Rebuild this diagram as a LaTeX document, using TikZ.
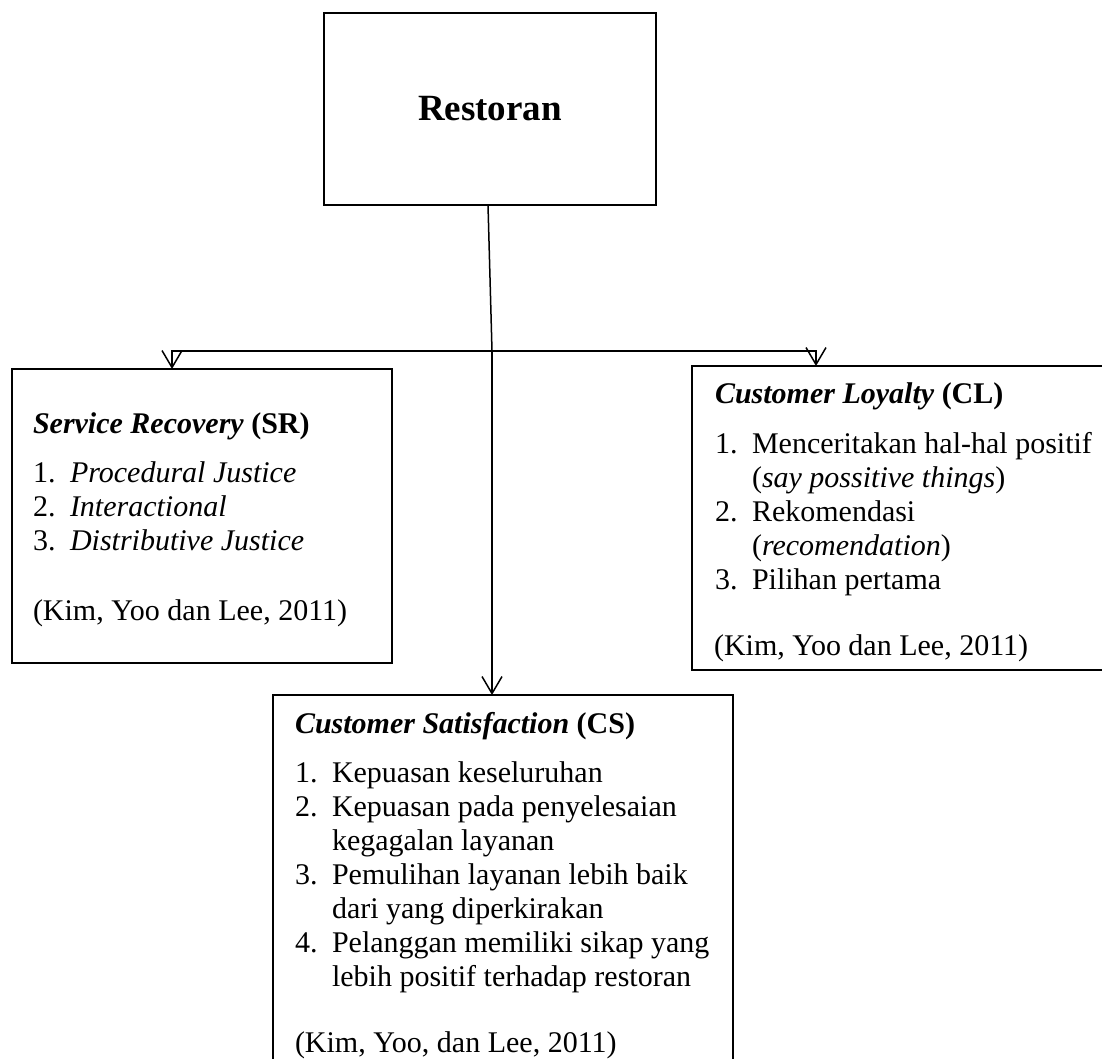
\documentclass[tikz,border=0pt]{standalone}
\usepackage{fontspec}
\setmainfont{Liberation Serif}
\usetikzlibrary{arrows.meta}
\tikzset{
  boxx/.style={draw, line width=1pt, rectangle, inner sep=0pt, outer sep=0pt},
  txt/.style={anchor=base west, inner sep=0pt, outer sep=0pt, font=\fontsize{15}{17}\selectfont},
  conn/.style={line width=0.75pt},
  arr/.style={conn, -{Straight Barb[length=8.5pt,width=10pt]}}
}
\begin{document}
\begin{tikzpicture}[x=0.5pt,y=-0.5pt]
\useasboundingbox (0,0) rectangle (1102,1059);
% boxes
\node[boxx, minimum width=166pt, minimum height=96pt, font=\fontsize{18.5}{22}\selectfont\bfseries] (rest) at (490,109) {Restoran};
\node[boxx, minimum width=190pt, minimum height=147pt] (sr) at (202,516) {};
\node[boxx, minimum width=206pt, minimum height=152pt] (cl) at (898,518) {};
\node[boxx, minimum width=230pt, minimum height=190pt] (cs) at (503,885) {};
% connectors
\coordinate (j) at (492,351);
\coordinate (srin) at (172,369);
\coordinate (clin) at (816,366);
\draw[conn] ([xshift=-1pt]rest.south) -- (j);
\draw[arr] (j) -- (j |- cs.north);
\draw[arr] (j) -| (srin);
\draw[arr] (j) -| (clin);
% SR text
\node[txt] (srt) at (33,433) {\textbf{\textit{Service Recovery}} \textbf{(SR)}};
\node[txt] (sr1n) at (33,482) {1.};
\node[txt] (sr1) at (70,482) {\textit{Procedural Justice}};
\node[txt] (sr2n) at (33,516) {2.};
\node[txt] (sr2) at (70,516) {\textit{Interactional}};
\node[txt] (sr3n) at (33,550) {3.};
\node[txt] (sr3) at (70,550) {\textit{Distributive Justice}};
\node[txt] (src) at (33,620) {(Kim, Yoo dan Lee, 2011)};
% CL text
\node[txt] (clt) at (715,403) {\textbf{\textit{Customer Loyalty}} \textbf{(CL)}};
\node[txt] (cl1n) at (715,453) {1.};
\node[txt] (cl1) at (752,453) {Menceritakan hal-hal positif};
\node[txt] (cl1b) at (752,487) {(\textit{say possitive things})};
\node[txt] (cl2n) at (715,521) {2.};
\node[txt] (cl2) at (752,521) {Rekomendasi};
\node[txt] (cl2b) at (752,555) {(\textit{recomendation})};
\node[txt] (cl3n) at (715,589) {3.};
\node[txt] (cl3) at (752,589) {Pilihan pertama};
\node[txt] (clc) at (714,655) {(Kim, Yoo dan Lee, 2011)};
% CS text
\node[txt] (cst) at (295,733) {\textbf{\textit{Customer Satisfaction}} \textbf{(CS)}};
\node[txt] (cs1n) at (295,782) {1.};
\node[txt] (cs1) at (332,782) {Kepuasan keseluruhan};
\node[txt] (cs2n) at (295,816) {2.};
\node[txt] (cs2) at (332,816) {Kepuasan pada penyelesaian};
\node[txt] (cs2b) at (332,850) {kegagalan layanan};
\node[txt] (cs3n) at (295,884) {3.};
\node[txt] (cs3) at (332,884) {Pemulihan layanan lebih baik};
\node[txt] (cs3b) at (332,918) {dari yang diperkirakan};
\node[txt] (cs4n) at (295,952) {4.};
\node[txt] (cs4) at (332,952) {Pelanggan memiliki sikap yang};
\node[txt] (cs4b) at (332,986) {lebih positif terhadap restoran};
\node[txt] (csc) at (295,1052) {(Kim, Yoo, dan Lee, 2011)};
\end{tikzpicture}
\end{document}
